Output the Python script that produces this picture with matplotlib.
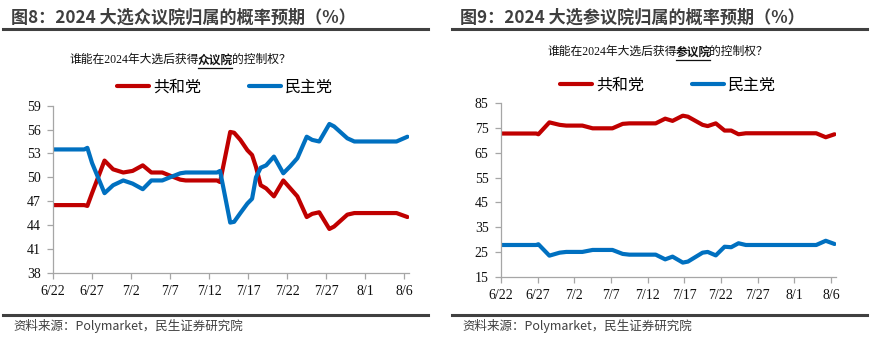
import matplotlib.pyplot as plt
from matplotlib.lines import Line2D

RED = '#C00000'
BLUE = '#0070C0'
TITLE_GRAY = '#3f3f3f'

tick_labels = ['6/22', '6/27', '7/2', '7/7', '7/12', '7/17', '7/22', '7/27', '8/1', '8/6']
tick_days = [0, 5, 10, 15, 20, 25, 30, 35, 40, 45]

# 众议院 (House) - days since 6/22
house_days = [0, 4, 4.4, 5, 6.6, 7.7, 9, 10.2, 11.5, 12.6, 14, 15, 16.3, 17, 21, 21.4,
              22.7, 23.2, 24, 24.9, 25.5, 26, 26.6, 27.3, 28.3, 29.5, 30.4, 31.3, 32.5,
              33.2, 34.1, 35.4, 36, 37.7, 38.6, 44, 45.4]
house_rep = [46.5, 46.5, 46.4, 48.0, 52.1, 51.0, 50.6, 50.8, 51.5, 50.6, 50.6, 50.2, 49.7,
             49.6, 49.6, 49.4, 55.7, 55.6, 54.7, 53.4, 52.8, 51.3, 49.0, 48.6, 47.6, 49.6,
             48.6, 47.6, 45.0, 45.4, 45.6, 43.5, 43.8, 45.3, 45.5, 45.5, 45.0]
house_dem = [53.5, 53.5, 53.7, 51.8, 48.0, 49.0, 49.6, 49.2, 48.5, 49.6, 49.6, 50.0, 50.5,
             50.6, 50.6, 50.8, 44.3, 44.4, 45.5, 46.7, 47.3, 50.0, 51.2, 51.5, 52.6, 50.5,
             51.4, 52.4, 55.1, 54.7, 54.5, 56.7, 56.4, 54.9, 54.5, 54.5, 55.1]

# 参议院 (Senate)
senate_days = [0, 4.8, 5.1, 6.6, 8, 8.9, 11.1, 12.5, 15.2, 16.6, 17.5, 21.1, 22.4, 23.4,
               24.8, 25.5, 27.5, 28.2, 29.3, 30.5, 31.4, 32.4, 33.4, 43, 44.3, 45.5]
senate_rep = [72.8, 72.8, 72.5, 77.3, 76.3, 76.0, 76.0, 74.9, 74.9, 76.7, 76.9, 76.9, 78.8,
              77.9, 80.0, 79.6, 76.3, 75.8, 76.9, 74.0, 74.0, 72.5, 72.9, 72.9, 71.3, 72.5]
senate_dem = [27.8, 27.8, 28.1, 23.5, 24.7, 25.0, 25.0, 25.8, 25.8, 24.2, 23.9, 23.9, 22.0,
              23.1, 20.7, 21.1, 24.7, 25.0, 23.6, 27.1, 26.9, 28.5, 27.8, 27.8, 29.5, 28.2]

W, H = 872, 346
fig = plt.figure(figsize=(W / 100, H / 100), dpi=100)

serif_cjk = ['Liberation Serif', 'Noto Sans CJK SC']
sans_cjk = ['Noto Sans CJK SC', 'DejaVu Sans']


def fx(px):
    return px / W


def fy(py):
    return 1 - py / H


def header(x0, x1, text):
    fig.add_artist(Line2D([fx(x0), fx(x1)], [fy(29), fy(29)], color='#404040', lw=2.2))
    fig.text(fx(x0 + 8), fy(18), text, family=sans_cjk, fontsize=12.3, fontweight='bold',
             color=TITLE_GRAY, va='center', ha='left')
    fig.add_artist(Line2D([fx(x0), fx(x1)], [fy(315), fy(315)], color='#404040', lw=2.2))
    fig.text(fx(x0 + 10), fy(326), '资料来源：Polymarket，民生证券研究院', family=sans_cjk,
             fontsize=9, color='#404040', va='center', ha='left')


def chart_title(cx, cy, chamber):
    parts = [('谁能在2024年大选后获得', 'normal'), (chamber, 'bold'), ('的控制权？', 'normal')]
    fig.canvas.draw()
    r = fig.canvas.get_renderer()
    objs = []
    for s, w in parts:
        fam = serif_cjk if w == 'normal' else sans_cjk
        objs.append(fig.text(0, fy(cy), s, family=fam, fontsize=8.5, fontweight=w,
                             va='center', ha='left', color='#111111'))
    widths = [o.get_window_extent(r).width - 1.2 for o in objs]
    x = cx - sum(widths) / 2
    for o, wd, (s, w) in zip(objs, widths, parts):
        o.set_x(fx(x))
        if w == 'bold':
            fig.add_artist(Line2D([fx(x + 0.5), fx(x + wd + 0.5)], [fy(cy + 7.5), fy(cy + 7.5)],
                                  color='#111111', lw=0.9))
        x += wd


def panel(rect, days, rep, dem, ylim, yticks, xmax, leg_xy):
    ax = fig.add_axes(rect)
    ax.plot(days, rep, color=RED, lw=3, solid_joinstyle='round', solid_capstyle='round', label='共和党')
    ax.plot(days, dem, color=BLUE, lw=3, solid_joinstyle='round', solid_capstyle='round', label='民主党')
    ax.set_ylim(*ylim)
    ax.set_xlim(0, xmax)
    ax.set_yticks(yticks)
    ax.set_xticks(tick_days)
    ax.set_xticklabels(tick_labels)
    for sp in ['top', 'right']:
        ax.spines[sp].set_visible(False)
    for sp in ['left', 'bottom']:
        ax.spines[sp].set_color('#a6a6a6')
        ax.spines[sp].set_linewidth(0.9)
    ax.tick_params(length=4, width=0.9, color='#a6a6a6', labelsize=10, pad=5)
    for lab in ax.get_xticklabels() + ax.get_yticklabels():
        lab.set_family(serif_cjk)
        lab.set_color('#111111')
    ax.set_facecolor('none')
    fig.legend(handles=ax.get_lines(), loc='center', bbox_to_anchor=leg_xy, ncol=2,
               frameon=False, prop={'family': sans_cjk, 'size': 11.5},
               handlelength=2.0, handletextpad=0.25, columnspacing=3.0)
    return ax


header(3, 428, '图8：2024 大选众议院归属的概率预期（%）')
header(452, 867, '图9：2024 大选参议院归属的概率预期（%）')

panel([fx(53), fy(272.7), fx(356), 167 / H], house_days, house_rep, house_dem,
      (38, 59), range(38, 60, 3), 45.6, (fx(225), fy(87)))
panel([fx(501), fy(276.7), fx(335), 173.4 / H], senate_days, senate_rep, senate_dem,
      (15, 85), range(15, 86, 10), 45.7, (fx(668), fy(85)))

chart_title(179.5, 60, '众议院')
chart_title(657, 52, '参议院')

fig.savefig('out.png', dpi=100)
